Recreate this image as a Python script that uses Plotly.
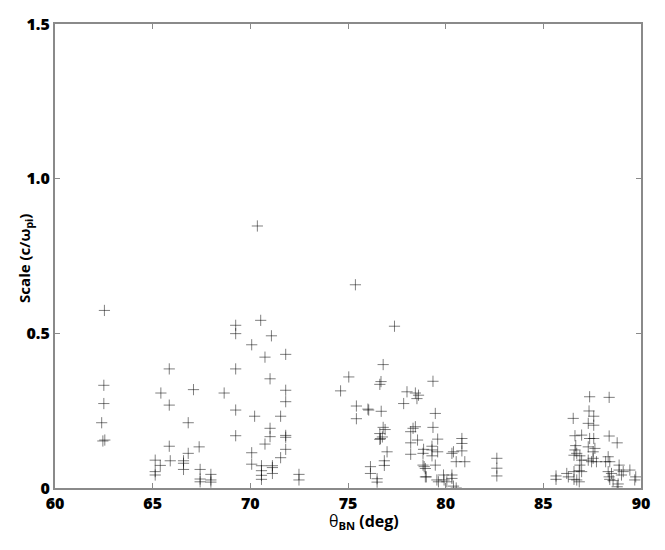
import plotly.graph_objects as go

# theta_BN (deg) and scale (c/omega_pi)
theta = [
    62.53, 62.50, 62.50, 62.39, 62.45, 62.55,
    65.85, 65.42, 65.85, 67.09, 66.82, 68.66,
    69.25, 69.25, 69.25, 69.25, 69.25,
    65.85, 67.38, 66.82, 65.13, 65.39, 65.90,
    66.58, 66.58, 66.58, 65.13, 65.13,
    67.43, 67.43, 67.43, 67.98, 67.98, 67.98,
    70.36, 75.38, 70.53, 71.08, 70.07, 70.75, 71.81, 71.01, 71.81, 71.81,
    70.22, 71.55, 71.01, 71.01, 71.81, 71.81, 70.75, 71.81, 70.07, 71.55, 70.07,
    70.57, 70.57, 70.57, 70.57, 71.13, 71.13, 71.13, 72.49, 72.49,
    75.04, 74.62, 75.43, 75.43, 76.02, 76.06, 76.80, 76.69, 76.63, 76.70,
    76.80, 76.90, 76.63, 76.66, 76.63, 76.76, 77.00, 76.86, 76.86,
    76.15, 76.15, 76.49, 76.49, 77.38,
    78.02, 78.45, 78.61, 78.53, 77.85, 78.33, 78.45, 78.21, 78.56, 78.21, 78.21,
    78.84, 78.87, 78.84, 78.96, 78.96,
    79.35, 79.47, 79.35, 79.59, 79.30, 79.30, 79.30, 79.59, 79.47, 78.90, 79.01,
    79.55, 79.63, 79.89, 79.92, 80.06, 80.32, 80.32, 80.40, 80.54,
    80.32, 80.40, 80.54, 80.83, 80.83, 80.83, 80.98,
    82.62, 82.62, 82.62, 85.65, 85.65, 86.20, 86.28,
    86.53, 86.62, 86.96, 86.66, 86.62, 86.71, 86.57,
    86.87, 86.96, 86.87, 86.84, 86.96, 86.57, 86.57, 86.71, 86.84,
    87.37, 88.37, 87.34, 87.58, 87.30, 87.58, 87.37, 87.58,
    87.30, 87.64, 87.55, 87.30, 87.47, 87.72, 87.55,
    88.37, 88.78, 88.32, 88.40, 88.19,
    88.32, 88.49, 88.37, 88.40, 88.57, 88.83, 88.78,
    88.88, 88.88, 89.09, 89.00, 89.43, 89.73, 89.68,
]
scale = [
    0.574, 0.332, 0.273, 0.211, 0.152, 0.155,
    0.385, 0.307, 0.268, 0.318, 0.211, 0.307,
    0.526, 0.499, 0.385, 0.252, 0.169,
    0.135, 0.133, 0.112, 0.090, 0.073, 0.088,
    0.088, 0.080, 0.060, 0.053, 0.042,
    0.060, 0.029, 0.020, 0.044, 0.026, 0.019,
    0.847, 0.657, 0.542, 0.492, 0.463, 0.423, 0.432, 0.353, 0.316, 0.279,
    0.232, 0.232, 0.193, 0.166, 0.170, 0.164, 0.142, 0.125, 0.114, 0.098, 0.077,
    0.072, 0.056, 0.041, 0.028, 0.072, 0.066, 0.047, 0.044, 0.026,
    0.359, 0.314, 0.265, 0.224, 0.255, 0.252, 0.399, 0.344, 0.335, 0.248,
    0.196, 0.189, 0.176, 0.160, 0.157, 0.165, 0.117, 0.088, 0.073,
    0.069, 0.047, 0.030, 0.019, 0.523,
    0.311, 0.307, 0.300, 0.289, 0.273, 0.193, 0.198, 0.182, 0.155, 0.146, 0.109,
    0.112, 0.125, 0.074, 0.063, 0.036,
    0.345, 0.241, 0.196, 0.158, 0.135, 0.123, 0.104, 0.117, 0.074, 0.069, 0.036,
    0.026, 0.020, 0.042, 0.026, 0.020, 0.042, 0.031, 0.006, 0.000,
    0.112, 0.117, 0.085, 0.160, 0.144, 0.120, 0.085,
    0.096, 0.064, 0.039, 0.039, 0.028, 0.047, 0.036,
    0.225, 0.169, 0.171, 0.137, 0.123, 0.112, 0.106,
    0.104, 0.090, 0.074, 0.056, 0.053, 0.053, 0.028, 0.026, 0.020,
    0.295, 0.293, 0.249, 0.232, 0.209, 0.203, 0.160, 0.160,
    0.133, 0.128, 0.117, 0.090, 0.085, 0.085, 0.096,
    0.168, 0.146, 0.101, 0.085, 0.085,
    0.053, 0.047, 0.036, 0.028, 0.024, 0.013, 0.004,
    0.074, 0.058, 0.053, 0.042, 0.058, 0.036, 0.026,
]

x_ticks = [60, 65, 70, 75, 80, 85, 90]
y_ticks = [0, 0.5, 1.0, 1.5]
y_tick_text = ["0", "0.5", "1.0", "1.5"]

fig = go.Figure(go.Scatter(
    x=theta, y=scale, mode="markers",
    marker=dict(symbol="cross-thin", size=8,
                line=dict(color="rgba(0,0,0,0.5)", width=1)),
    hoverinfo="x+y",
))

axis_common = dict(
    showline=True, linecolor="#8a8a8a", linewidth=2, mirror="ticks",
    ticks="inside", ticklen=5, tickcolor="#8a8a8a", tickwidth=1,
    showgrid=False, zeroline=False, automargin=False,
    tickfont=dict(family="Open Sans", size=16, color="black", weight=800),
)

# page body has an 8px margin, so the figure is sized to fit inside it
fig.update_layout(
    width=649, height=534,
    margin=dict(l=47, r=16, t=16, b=54),
    paper_bgcolor="white", plot_bgcolor="white",
    showlegend=False,
    font=dict(family="Open Sans", color="black"),
    xaxis=dict(range=[60, 90], tickvals=x_ticks, **axis_common),
    yaxis=dict(range=[0, 1.5], tickvals=y_ticks, ticktext=y_tick_text, **axis_common),
)

# axis titles as annotations so they sit where the reference has them
fig.add_annotation(
    text="θ<sub><b>BN</b></sub> <b>(deg)</b>", font=dict(size=16),
    xref="paper", yref="paper", x=0.527, y=-0.073,
    xanchor="center", yanchor="middle", showarrow=False,
)
fig.add_annotation(
    text="<b>Scale (c/ω<sub>pi</sub>)</b>", font=dict(size=15),
    xref="paper", yref="paper", x=-0.051, y=0.494, textangle=-90,
    xanchor="center", yanchor="middle", showarrow=False,
)

fig.write_html("out.html")
